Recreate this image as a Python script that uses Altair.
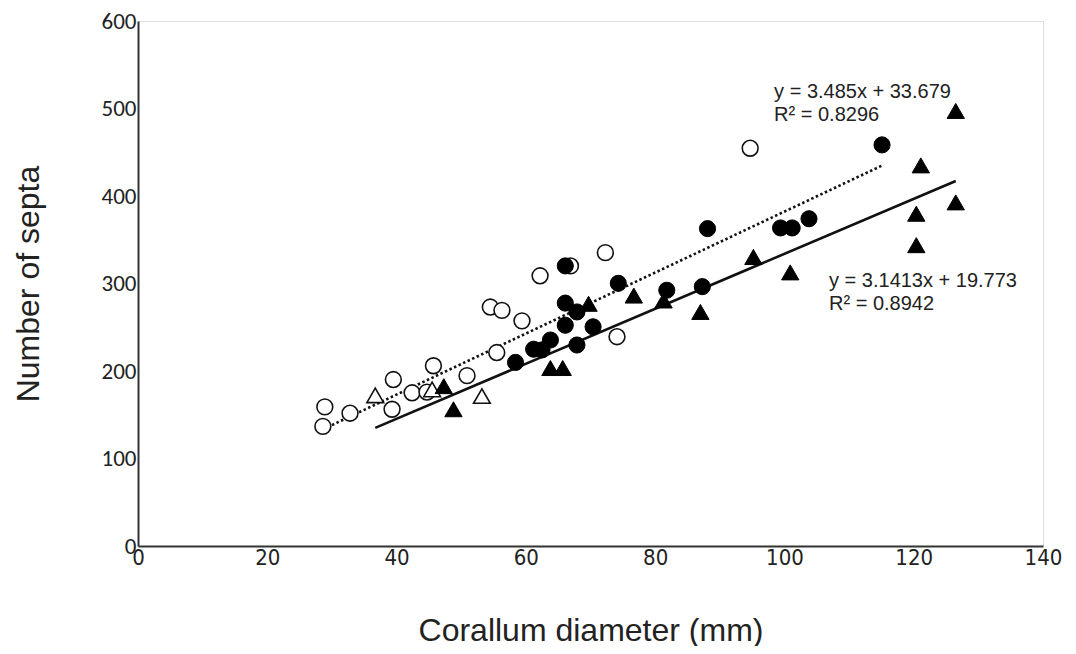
import altair as alt
import pandas as pd

# ---- data ----
open_circle_x = [28.6, 28.9, 32.8, 39.5, 39.3, 42.4, 44.7, 45.7, 50.9, 54.5, 56.3, 55.5, 59.4, 62.2, 66.9, 72.3, 74.1, 94.7]
open_circle_y = [136.7, 159.0, 151.8, 190.2, 156.3, 175.1, 175.9, 206.0, 194.7, 273.1, 269.3, 221.1, 257.3, 308.8, 320.1, 335.3, 239.2, 454.6]

filled_circle_x = [58.4, 61.2, 62.5, 63.8, 66.1, 66.1, 67.9, 66.1, 67.9, 70.4, 74.3, 81.8, 87.3, 88.1, 99.4, 101.2, 103.8, 115.1]
filled_circle_y = [209.8, 224.9, 224.1, 235.4, 252.3, 277.6, 267.5, 320.1, 229.7, 250.5, 300.2, 292.3, 296.4, 362.7, 363.5, 363.5, 374.0, 458.4]

open_triangle_x = [36.7, 45.5, 53.2]
open_triangle_y = [172.1, 178.9, 171.4]

filled_triangle_x = [47.3, 48.8, 63.8, 65.7, 69.7, 76.7, 81.3, 87.0, 95.2, 100.9, 120.4, 120.4, 121.1, 126.5, 126.5]
filled_triangle_y = [182.7, 156.3, 203.4, 203.4, 276.8, 286.2, 280.6, 267.5, 330.3, 312.7, 343.8, 379.7, 435.0, 497.2, 392.7]

# trend lines (equations printed on the chart) and their x extents
fit_names = ["circles", "triangles"]
fit_slope = [3.485, 3.1413]
fit_intercept = [33.679, 19.773]
fit_x_start = [28.6, 36.7]
fit_x_end = [115.1, 126.5]

eq_text = [["y = 3.485x + 33.679", "R² = 0.8296"], ["y = 3.1413x + 19.773", "R² = 0.8942"]]
eq_x = [98.4, 106.9]
eq_y = [519.0, 303.0]

x_ticks = [0, 20, 40, 60, 80, 100, 120, 140]
y_ticks = [0, 100, 200, 300, 400, 500, 600]

# ---- tables ----
def pts(xs, ys):
    return pd.DataFrame({"x": xs, "y": ys})

line_rows = []
for n, m, b, x0, x1 in zip(fit_names, fit_slope, fit_intercept, fit_x_start, fit_x_end):
    for xv in (x0, x1):
        line_rows.append({"fit": n, "x": xv, "y": m * xv + b})
lines_df = pd.DataFrame(line_rows)

eq_df = pd.DataFrame({"x": eq_x, "y": eq_y, "label": eq_text})

W, H = 905, 525
xs = alt.Scale(domain=[0, 140], nice=False, zero=False)
ys = alt.Scale(domain=[0, 600], nice=False, zero=False)
X = alt.X("x:Q", scale=xs, title="Corallum diameter (mm)",
          axis=alt.Axis(values=x_ticks, grid=False, ticks=False, domainColor="#333", domainWidth=2,
                        labelFont="Liberation Sans Narrow, DejaVu Sans Condensed, Liberation Sans, Arial, sans-serif",
                        labelFontSize=22, labelColor="#222",
                        labelPadding=1, labelFlush=False,
                        titleFont="Liberation Sans, Arial, sans-serif", titleFontSize=32, titleFontWeight="normal",
                        titleColor="#222", titleY=94, titleBaseline="alphabetic"))
Y = alt.Y("y:Q", scale=ys, title="Number of septa",
          axis=alt.Axis(values=y_ticks, grid=False, ticks=False, domainColor="#333", domainWidth=2,
                        labelFont="Carlito, Lato, Open Sans, sans-serif", labelFontSize=23, labelColor="#222",
                        labelPadding=2, labelFlush=False,
                        titleFont="Liberation Sans, Arial, sans-serif", titleFontSize=32, titleFontWeight="normal",
                        titleColor="#222", titleX=-110, titleBaseline="middle"))

dotted = alt.Chart(lines_df).transform_filter(alt.datum.fit == "circles").mark_line(
    color="#111", strokeWidth=2.6, strokeDash=[2.5, 2.5]).encode(x=X, y=Y)
solid = alt.Chart(lines_df).transform_filter(alt.datum.fit == "triangles").mark_line(
    color="#111", strokeWidth=2.6).encode(x=X, y=Y)

oc = alt.Chart(pts(open_circle_x, open_circle_y)).mark_point(
    shape="circle", size=250, fill="white", stroke="#111", strokeWidth=1.6, opacity=1, fillOpacity=1
).encode(x=X, y=Y)
ot = alt.Chart(pts(open_triangle_x, open_triangle_y)).mark_point(
    shape="triangle-up", size=280, fill="white", stroke="#111", strokeWidth=1.6, opacity=1, fillOpacity=1
).encode(x=X, y=Y)
ft = alt.Chart(pts(filled_triangle_x, filled_triangle_y)).mark_point(
    shape="triangle-up", size=300, fill="#000", stroke="#000", strokeWidth=1, opacity=1, fillOpacity=1
).encode(x=X, y=Y)
fc = alt.Chart(pts(filled_circle_x, filled_circle_y)).mark_point(
    shape="circle", size=260, fill="#000", stroke="#000", strokeWidth=1, opacity=1, fillOpacity=1
).encode(x=X, y=Y)

eq = alt.Chart(eq_df).mark_text(
    align="left", baseline="middle", font="Liberation Sans, Arial, sans-serif", fontSize=20,
    color="#222", lineHeight=23.5
).encode(x=X, y=Y, text="label")

chart = alt.layer(dotted, solid, oc, ot, ft, fc, eq).properties(
    width=W, height=H,
    autosize=alt.AutoSizeParams(type="none"),
    padding={"left": 130, "top": 13, "right": 20, "bottom": 100},
).configure_view(stroke=None).configure(background="white")

chart.save("out.html", embed_options={"renderer": "svg", "actions": False})
